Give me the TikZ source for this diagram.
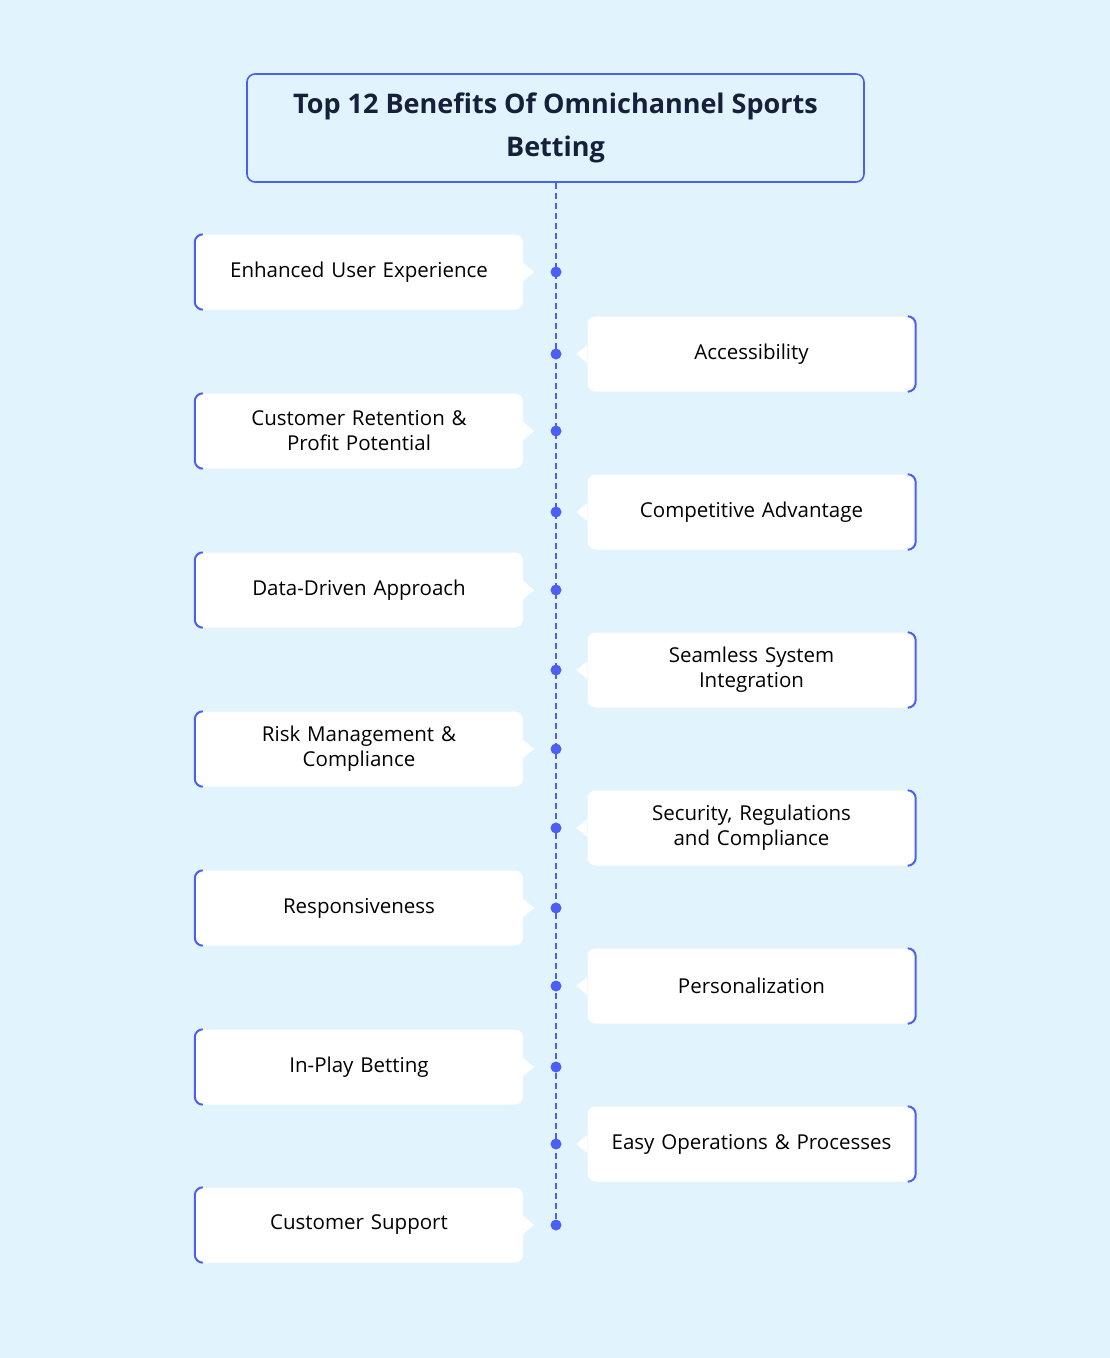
\documentclass[tikz,border=0pt]{standalone}
\usepackage{fontspec}
\setmainfont{Open Sans}
\usetikzlibrary{positioning}
\definecolor{bgcol}{HTML}{E1F3FD}
\definecolor{accent}{HTML}{4C5FF5}
\definecolor{ink}{HTML}{16203A}
\tikzset{
  benefit/.style={fill=white, rounded corners=8pt, minimum width=328pt, minimum height=75pt,
    align=center, text width=300pt, font=\fontsize{20.5}{25}\selectfont, text=black},
  stop/.style={circle, fill=accent, inner sep=0pt, minimum size=11pt},
}
\begin{document}
\begin{tikzpicture}[x=1pt,y=-1pt]
				\fill[bgcol] (0,0) rectangle (1110,1358);
				\useasboundingbox (0,0) rectangle (1110,1358);

				\node[draw=accent, line width=1.6pt, fill=bgcol, rounded corners=8pt, minimum width=617pt, minimum height=108pt,
				  align=center, font=\fontsize{27}{43}\selectfont\bfseries, text=ink] (title) at (555.5,128) {Top 12 Benefits Of Omnichannel Sports\\Betting};

				% timeline
				\coordinate (tlend) at (556,1225);
				\draw[accent, line width=1.5pt, dash pattern=on 6pt off 4pt] (title.south -| tlend) -- (tlend);

				% left column
				\foreach \i/\yy/\txt in {1/272/Enhanced User Experience, 2/431/{Customer Retention \&\\Profit Potential}, 3/590/Data-Driven Approach,
				  4/749/{Risk Management \&\\Compliance}, 5/908/Responsiveness, 6/1067/In-Play Betting, 7/1225/Customer Support} {
				  \node[benefit] (L\i) at (359,\yy) {\txt};
				  \fill[white] ([yshift=9pt]L\i.east) -- ++(11,9) -- ++(-11,9) -- cycle;
				  \draw[accent, line width=2pt, rounded corners=8pt] ([xshift=8pt]L\i.north west) -- (L\i.north west) -- (L\i.south west) -- ([xshift=8pt]L\i.south west);
				  \node[stop] (dl\i) at (556,\yy) {};
				}

				% right column
				\foreach \i/\yy/\txt in {1/354/Accessibility, 2/512/Competitive Advantage, 3/670/{Seamless System\\Integration},
				  4/828/{Security, Regulations\\and Compliance}, 5/986/Personalization, 6/1144/Easy Operations \& Processes} {
				  \node[benefit] (R\i) at (751.5,\yy) {\txt};
				  \fill[white] ([yshift=9pt]R\i.west) -- ++(-11,9) -- ++(11,9) -- cycle;
				  \draw[accent, line width=2pt, rounded corners=8pt] ([xshift=-8pt]R\i.north east) -- (R\i.north east) -- (R\i.south east) -- ([xshift=-8pt]R\i.south east);
				  \node[stop] (dr\i) at (556,\yy) {};
				}

\end{tikzpicture}
\end{document}
